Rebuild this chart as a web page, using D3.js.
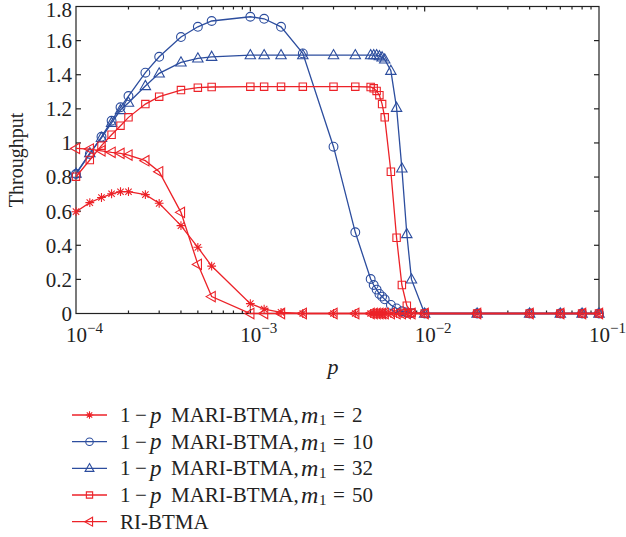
<!DOCTYPE html>
<html>
<head>
<meta charset="utf-8">
<script src="https://cdn.jsdelivr.net/npm/d3@7"></script>
<style>
  body { margin: 0; background: #fff; }
  text { font-family: "Liberation Serif", "DejaVu Serif", serif; fill: #222; }
</style>
</head>
<body>
<div id="chart"></div>
<script>
// shared p grid
var pGrid = [1e-4, 1.2e-4, 1.4e-4, 1.6e-4, 1.8e-4, 2e-4, 2.5e-4, 3e-4, 4e-4, 5e-4, 6e-4,
  1e-3, 1.2e-3, 1.5e-3, 2e-3, 3e-3, 4e-3,
  4.9e-3, 5.1e-3, 5.3e-3, 5.5e-3, 5.7e-3, 5.9e-3,
  6.4e-3, 6.9e-3, 7.4e-3, 7.9e-3, 8.4e-3,
  1e-2, 2e-2, 4e-2, 6e-2, 8e-2, 1e-1];

var m2 = [0.597, 0.65, 0.68, 0.702, 0.714, 0.714, 0.697, 0.646, 0.515, 0.388, 0.278,
  0.058, 0.026, 0.007, 0, 0, 0,
  0, 0, 0, 0, 0, 0,
  0, 0, 0, 0, 0,
  0, 0, 0, 0, 0, 0];
var m10 = [0.818, 0.935, 1.036, 1.13, 1.209, 1.275, 1.412, 1.505, 1.621, 1.681, 1.715,
  1.74, 1.728, 1.681, 1.525, 0.978, 0.476,
  0.202, 0.167, 0.14, 0.115, 0.099, 0.083,
  0.05, 0.03, 0.013, 0.006, 0.002,
  0, 0, 0, 0, 0, 0];
var m32 = [0.82, 0.94, 1.03, 1.118, 1.193, 1.236, 1.334, 1.408, 1.472, 1.496, 1.505,
  1.515, 1.515, 1.515, 1.515, 1.515, 1.515,
  1.515, 1.515, 1.515, 1.509, 1.502, 1.49,
  1.423, 1.206, 0.851, 0.466, 0.2,
  0, 0, 0, 0, 0, 0];
var m50 = [0.802, 0.9, 0.984, 1.048, 1.101, 1.15, 1.228, 1.271, 1.31, 1.324, 1.328,
  1.33, 1.33, 1.33, 1.33, 1.33, 1.33,
  1.328, 1.32, 1.305, 1.28, 1.228, 1.15,
  0.831, 0.444, 0.167, 0.046, 0.005,
  0, 0, 0, 0, 0, 0];
var ri = [0.968, 0.964, 0.954, 0.945, 0.939, 0.929, 0.896, 0.831, 0.593, 0.288, 0.099,
  0, 0, 0, 0, 0, 0,
  0, 0, 0, 0, 0, 0,
  0, 0, 0, 0, 0,
  0, 0, 0, 0, 0, 0];

var yTicks = [0, 0.2, 0.4, 0.6, 0.8, 1, 1.2, 1.4, 1.6, 1.8];
var xTicks = [1e-4, 1e-3, 1e-2, 1e-1];
var xTickExp = ["\u22124", "\u22123", "\u22122", "\u22121"];

var red = "#ec2228", blue = "#2c4d9e";

var series = [
  {values: m2, color: red, marker: "star", label: "2"},
  {values: m10, color: blue, marker: "circle", label: "10"},
  {values: m32, color: blue, marker: "triangle", label: "32"},
  {values: m50, color: red, marker: "square", label: "50"},
  {values: ri, color: red, marker: "left", label: null}
];

var W = 626, H = 537;
var x0 = 76, x1 = 599, y0 = 313.5, y1 = 6.5;

var svg = d3.select("#chart").append("svg")
  .attr("width", W).attr("height", H);

var x = d3.scaleLog().domain([1e-4, 1e-1]).range([x0, x1]);
var y = d3.scaleLinear().domain([0, 1.8]).range([y0, y1]);

// marker shapes, k = scale
function markerPath(type, k) {
  k = k || 1;
  var p = d3.path();
  if (type === "circle") {
    var r = 4.4 * k;
    p.moveTo(r, 0); p.arc(0, 0, r, 0, 2 * Math.PI);
  } else if (type === "triangle") {
    p.moveTo(0, -5.6 * k); p.lineTo(5.2 * k, 3.6 * k); p.lineTo(-5.2 * k, 3.6 * k); p.closePath();
  } else if (type === "left") {
    p.moveTo(-5.6 * k, 0); p.lineTo(3.6 * k, -5.2 * k); p.lineTo(3.6 * k, 5.2 * k); p.closePath();
  } else if (type === "square") {
    var s = 3.7 * k;
    p.rect(-s, -s, 2 * s, 2 * s);
  } else if (type === "star") {
    var a = 4.4 * k, b = 3.2 * k;
    p.moveTo(-a, 0); p.lineTo(a, 0);
    p.moveTo(0, -a); p.lineTo(0, a);
    p.moveTo(-b, -b); p.lineTo(b, b);
    p.moveTo(-b, b); p.lineTo(b, -b);
  }
  return p.toString();
}

// frame
var axisColor = "#222";
svg.append("rect")
  .attr("x", x0).attr("y", y1)
  .attr("width", x1 - x0).attr("height", y0 - y1)
  .attr("fill", "none").attr("stroke", axisColor).attr("stroke-width", 1.2);

// y ticks, inward on both sides
var yg = svg.append("g");
yTicks.forEach(function(t) {
  if (t > 0 && t < 1.8) {
    yg.append("line").attr("x1", x0).attr("x2", x0 + 5).attr("y1", y(t)).attr("y2", y(t))
      .attr("stroke", axisColor).attr("stroke-width", 1.2);
    yg.append("line").attr("x1", x1).attr("x2", x1 - 5).attr("y1", y(t)).attr("y2", y(t))
      .attr("stroke", axisColor).attr("stroke-width", 1.2);
  }
  yg.append("text").attr("x", x0 - 4).attr("y", Math.max(y(t), 10)).attr("dy", "0.35em")
    .attr("text-anchor", "end").attr("font-size", 21).text(t);
});

// x log ticks, inward on top and bottom
var xg = svg.append("g");
for (var e = -4; e < -1; e++) {
  for (var m = 1; m <= 9; m++) {
    var v = m * Math.pow(10, e);
    var len = m === 1 ? 5 : 3;
    if (m === 1 && e === -4) continue;
    xg.append("line").attr("x1", x(v)).attr("x2", x(v)).attr("y1", y0).attr("y2", y0 - len)
      .attr("stroke", axisColor).attr("stroke-width", 1.2);
    xg.append("line").attr("x1", x(v)).attr("x2", x(v)).attr("y1", y1).attr("y2", y1 + len)
      .attr("stroke", axisColor).attr("stroke-width", 1.2);
  }
}
xTicks.forEach(function(t, i) {
  var tx = xg.append("text").attr("x", x(t) - 10).attr("y", 342).attr("font-size", 21);
  tx.append("tspan").text("10");
  tx.append("tspan").attr("font-size", 15).attr("dy", -9).text(xTickExp[i]);
});

// axis titles
svg.append("text").attr("x", 333).attr("y", 374).attr("text-anchor", "middle")
  .attr("font-size", 22).attr("font-style", "italic").text("p");
svg.append("text").attr("transform", "translate(23,160) rotate(-90)")
  .attr("text-anchor", "middle").attr("font-size", 20).text("Throughput");

// lines and markers
var line = d3.line()
  .x(function(d, i) { return x(pGrid[i]); })
  .y(function(d) { return y(d); });

series.forEach(function(s) {
  var g = svg.append("g");
  g.append("path").attr("d", line(s.values))
    .attr("fill", "none").attr("stroke", s.color).attr("stroke-width", 1.3);
  g.selectAll("path.mk").data(s.values).enter().append("path")
    .attr("class", "mk")
    .attr("transform", function(d, i) { return "translate(" + x(pGrid[i]) + "," + y(d) + ")"; })
    .attr("d", markerPath(s.marker))
    .attr("fill", "none").attr("stroke", s.color).attr("stroke-width", 1.1);
});

// legend
var leg = svg.append("g");
var rowY = [415, 441.7, 468.3, 495, 521.7];
function legText(xp, ly, str, opts) {
  opts = opts || {};
  return leg.append("text").attr("x", xp).attr("y", ly + (opts.dy || 0)).attr("dy", "0.33em")
    .attr("font-size", opts.size || 21)
    .attr("font-style", opts.italic ? "italic" : null)
    .text(str);
}
series.forEach(function(s, i) {
  var ly = rowY[i];
  leg.append("line").attr("x1", 72).attr("x2", 107).attr("y1", ly).attr("y2", ly)
    .attr("stroke", s.color).attr("stroke-width", 1.3);
  leg.append("path").attr("transform", "translate(89.5," + ly + ")")
    .attr("d", markerPath(s.marker, 0.85))
    .attr("fill", "none").attr("stroke", s.color).attr("stroke-width", 1.1);
  if (s.label === null) {
    legText(120, ly, "RI-BTMA");
  } else {
    legText(120, ly, "1");
    legText(135, ly, "\u2212");
    legText(150, ly, "p", {italic: true, size: 23});
    legText(171, ly, "MARI-BTMA,");
    legText(301, ly, "m", {italic: true, size: 24});
    legText(319, ly, "1", {size: 15, dy: 5});
    legText(333, ly, "=");
    legText(352, ly, s.label);
  }
});
</script>
</body>
</html>
